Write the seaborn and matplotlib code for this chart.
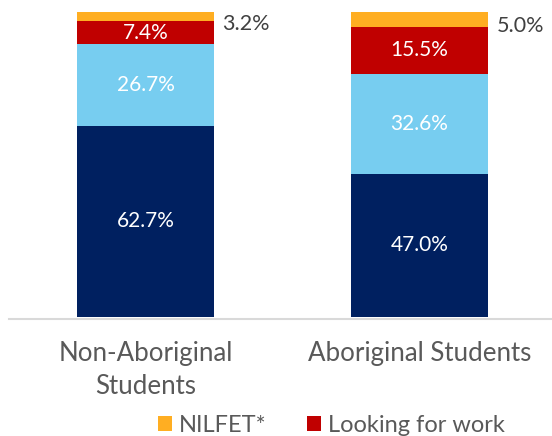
import pandas as pd
import numpy as np
import seaborn as sns
import matplotlib.pyplot as plt


groups = ['Non-Aboriginal\nStudents', 'Aboriginal Students']
employed = [62.7, 47.0]
studying = [26.7, 32.6]
looking = [7.4, 15.5]
nilfet = [3.2, 5.0]

series_names = ['Employed', 'Studying', 'Looking for work', 'NILFET*']
colors = ['#002060', '#77CDF0', '#C00000', '#FFAE22']

df = pd.DataFrame({'group': groups, 'Employed': employed, 'Studying': studying,
                   'Looking for work': looking, 'NILFET*': nilfet})
cum = df[series_names].cumsum(axis=1)

sns.set_style('white')
plt.rcParams['font.family'] = ['Lato', 'DejaVu Sans']

fig = plt.figure(figsize=(5.52, 4.36), dpi=100)
ax = fig.add_axes([8.5 / 552, 119 / 436, 548 / 552, 305.3 / 436])

# stacked bars: draw the cumulative totals from the top series down
for name, color in reversed(list(zip(series_names, colors))):
    sns.barplot(x=df['group'], y=cum[name], color=color, saturation=1, width=0.5,
                linewidth=0, label=name, ax=ax)

handles, labels = ax.get_legend_handles_labels()
if ax.get_legend() is not None:
    ax.get_legend().remove()

ax.set_ylim(0, 100)
ax.set_xlim(-0.5, 1.5)
ax.set_ylabel('')
ax.set_xlabel('')
ax.set_yticks([])
for s in ['top', 'left', 'right']:
    ax.spines[s].set_visible(False)
ax.spines['bottom'].set_color('#D9D9D9')
ax.spines['bottom'].set_linewidth(1.5)
ax.spines['bottom'].set_position(('outward', 1.5))
ax.tick_params(axis='x', length=0, pad=16, labelsize=18.6, labelcolor='#595959')
for lbl in ax.get_xticklabels():
    lbl.set_linespacing(1.4)

# value labels
for i in range(len(df)):
    for name in series_names:
        val = df.loc[i, name]
        mid = cum.loc[i, name] - val / 2
        if name == 'NILFET*':
            ax.annotate(f'{val:.1f}%', (i + 0.25, mid), xytext=(6, -5),
                        textcoords='offset points', ha='left', va='center',
                        fontsize=15.5, color='#404040')
        else:
            ax.text(i, mid, f'{val:.1f}%', ha='center', va='center',
                    fontsize=15, color='white')

fig.legend(handles[:2], labels[:2], loc='lower left', bbox_to_anchor=(158 / 552, 0),
           ncol=2, frameon=False, fontsize=17, labelcolor='#595959',
           handlelength=0.6, handleheight=0.6, handletextpad=0.3, columnspacing=1.7,
           borderpad=0, borderaxespad=0)

fig.savefig('out.png', dpi=100)
